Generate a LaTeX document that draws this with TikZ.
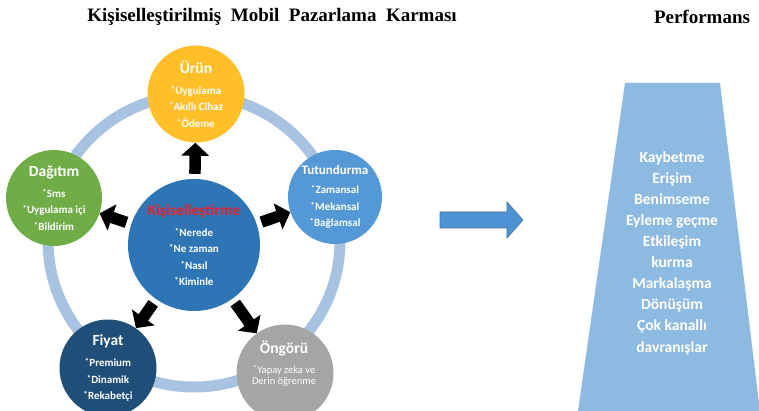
\documentclass[tikz,border=0pt]{standalone}
\usepackage{fontspec}
\setmainfont{Carlito}
\newfontfamily\titlefont{Liberation Serif}
\usetikzlibrary{arrows.meta}
\definecolor{ringC}{HTML}{A8C3E2}
\definecolor{urunC}{HTML}{FFBF28}
\definecolor{dagC}{HTML}{70AD47}
\definecolor{tutC}{HTML}{5499D6}
\definecolor{cenC}{HTML}{2E75B6}
\definecolor{fiyC}{HTML}{1F4E79}
\definecolor{ongC}{HTML}{A5A5A5}
\definecolor{trapC}{HTML}{8DBAE1}
\definecolor{barrC}{HTML}{4D93D3}
\definecolor{barrD}{HTML}{41719C}
\definecolor{redT}{HTML}{E52229}
\newcommand{\bul}{\raisebox{2pt}{\fontsize{8.5}{8.5}\selectfont *}\kern0.3pt}
\newcommand{\ctitle}[1]{{\fontsize{15.5}{16}\selectfont #1}}
\begin{document}
\begin{tikzpicture}[x=1pt,y=-1pt,
  bub/.style={circle, inner sep=0pt, text=white, align=center,
    font=\fontsize{11}{16.3}\selectfont\bfseries},
  arr/.style={line width=11.5pt, -{Triangle[width=27pt,length=13pt]}, shorten <=5pt},
  titl/.style={font=\titlefont\bfseries\fontsize{19}{22}\selectfont, inner sep=0pt}]
\useasboundingbox (0,0) rectangle (759,411);
\begin{scope}
\clip (0,0) rectangle (759,411);
% ring
\draw[ringC, line width=11pt] (194,241) circle[radius=146pt];
% circles
\node[bub, fill=urunC, minimum size=97pt] (urun) at (196,94)
  {\ctitle{Ürün}\\[5pt]\bul Uygulama\\\bul Akıllı Cihaz\\\bul Ödeme};
\node[bub, fill=dagC, minimum size=96pt] (dag) at (54,198)
  {\ctitle{Dağıtım}\\[5pt]\bul Sms\\\bul Uygulama içi\\\bul Bildirim};
\node[bub, fill=tutC, minimum size=94pt] (tut) at (335,197)
  {{\fontsize{13}{16}\selectfont Tutundurma}\\[3pt]\bul Zamansal\\\bul Mekansal\\\bul Bağlamsal};
\node[bub, fill=cenC, minimum size=132pt] (cen) at (194,245)
  {\textcolor{redT}{\ctitle{Kişiselleştirme}}\\[5pt]\bul Nerede\\\bul Ne zaman\\\bul Nasıl\\\bul Kiminle};
\node[bub, fill=fiyC, minimum size=97pt] (fiy) at (108,368)
  {\ctitle{Fiyat}\\[5pt]\bul Premium\\\bul Dinamik\\\bul Rekabetçi};
\node[circle, inner sep=0pt, fill=ongC, minimum size=97pt] (ong) at (285,373) {};
\node[text=white, align=center, inner sep=0pt, font=\fontsize{10.5}{11.5}\selectfont] (ongT) at (284,364)
  {{\bfseries\ctitle{Öngörü}}\\[8pt]\bul Yapay zeka ve\\Derin öğrenme};
% arrows
\draw[arr] (cen) -- (urun);
\draw[arr] (cen) -- (dag);
\draw[arr] (cen) -- (tut);
\draw[arr] (cen) -- (fiy);
\draw[arr] (cen) -- (ong);
% big blue arrow
\draw[barrD, fill=barrC, line width=0.6pt]
  (440,212) -- (507,212) -- (507,202) -- (523,220) -- (507,238) -- (507,228) -- (440,228) -- cycle;
% trapezoid
\fill[trapC] (625,83) -- (720,83) -- (760,411) -- (578,411) -- cycle;
\end{scope}
\node[text=white, align=center, inner sep=0pt, font=\fontsize{15.5}{21.1}\selectfont\bfseries] (perfT) at (672,253)
  {Kaybetme\\Erişim\\Benimseme\\Eyleme geçme\\Etkileşim\\kurma\\Markalaşma\\Dönüşüm\\Çok kanallı\\davranışlar};
% titles
\node[titl] (title) at (272,17) {Kişiselleştirilmiş\hspace{0.5em}Mobil\hspace{0.5em}Pazarlama\hspace{0.5em}Karması};
\node[titl] (perf) at (702,17) {Performans};
\end{tikzpicture}
\end{document}
